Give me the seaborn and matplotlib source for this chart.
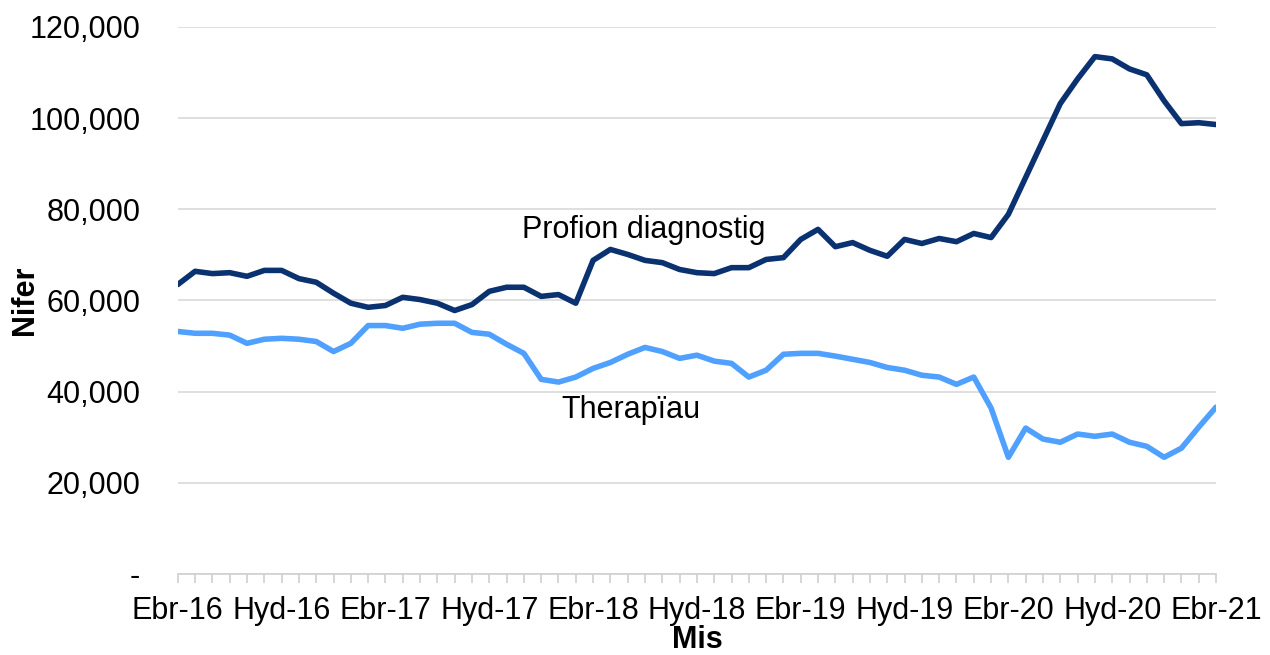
import numpy as np
import pandas as pd
import seaborn as sns
import matplotlib.pyplot as plt

# monthly counts, Ebr-16 .. Ebr-21
profion = [63500, 66400, 65900, 66100, 65300, 66600, 66600, 64800, 64000, 61600,
           59400, 58500, 58900, 60700, 60200, 59400, 57800, 59100, 62000, 62900,
           62900, 60900, 61300, 59400, 68800, 71200, 70100, 68800, 68300, 66800,
           66100, 65900, 67200, 67200, 69000, 69400, 73400, 75600, 71800, 72700,
           71000, 69700, 73400, 72500, 73600, 72900, 74700, 73800, 78900, 87000,
           95100, 103200, 108600, 113500, 113000, 110800, 109500, 103800, 98800, 99000,
           98600]
therapi = [53200, 52800, 52800, 52400, 50600, 51500, 51700, 51500, 51000, 48800,
           50600, 54500, 54500, 53900, 54800, 55000, 55000, 53000, 52600, 50400,
           48400, 42700, 42100, 43200, 45100, 46400, 48200, 49700, 48800, 47300,
           48000, 46700, 46200, 43200, 44700, 48200, 48400, 48400, 47800, 47100,
           46400, 45300, 44700, 43600, 43200, 41600, 43200, 36400, 25600, 32000,
           29600, 28900, 30700, 30200, 30700, 28900, 28000, 25600, 27600, 32200,
           36600]
tick_labels = ['Ebr-16', 'Hyd-16', 'Ebr-17', 'Hyd-17', 'Ebr-18', 'Hyd-18',
               'Ebr-19', 'Hyd-19', 'Ebr-20', 'Hyd-20', 'Ebr-21']
series_names = ['Profion diagnostig', 'Therapïau']

months = np.arange(len(profion))
df = pd.DataFrame({'mis': np.concatenate([months, months]),
                   'nifer': profion + therapi,
                   'cyfres': [series_names[0]] * len(profion) + [series_names[1]] * len(therapi)})

sns.set_style('white')
plt.rcParams['font.family'] = ['Liberation Sans', 'DejaVu Sans']
plt.rcParams['text.color'] = 'black'
plt.rcParams['xtick.color'] = 'black'
plt.rcParams['ytick.color'] = 'black'
plt.rcParams['axes.labelcolor'] = 'black'

fig = plt.figure(figsize=(12.7, 6.55), dpi=100)
ax = fig.add_axes([0.140, 0.1237, 0.8175, 0.8351])

sns.lineplot(data=df, x='mis', y='nifer', hue='cyfres',
             palette={series_names[0]: '#0a3170', series_names[1]: '#4fa0ff'},
             linewidth=4, legend=False, ax=ax)

ax.set_xlim(0, len(profion) - 1)
ax.set_ylim(0, 120000)
ax.set_yticks(np.arange(0, 120001, 20000))
ax.set_yticklabels(['-'] + [f'{v:,}' for v in range(20000, 120001, 20000)], fontsize=22)
ax.yaxis.grid(True, color='#d9d9d9', linewidth=1.2)
ax.set_axisbelow(True)

ax.set_xticks(np.arange(0, len(profion), 6))
ax.set_xticklabels(tick_labels, fontsize=22)
ax.set_xticks(months, minor=True)
ax.tick_params(axis='x', which='both', bottom=True, direction='out', length=6.5,
               color='#d0d0d0', labelcolor='black', width=1.2, pad=9)
ax.tick_params(axis='y', length=0, pad=27)

for s in ['left', 'right', 'top']:
    ax.spines[s].set_visible(False)
ax.spines['bottom'].set_color('#d0d0d0')
ax.spines['bottom'].set_linewidth(1.2)

ax.set_xlabel('Mis', fontsize=22, fontweight='bold')
ax.set_ylabel('Nifer', fontsize=22, fontweight='bold')
ax.xaxis.set_label_coords(0.5, -0.121)
ax.yaxis.set_label_coords(-0.147, 0.5)
ax.xaxis.label.set_va('center')
ax.yaxis.label.set_va('center')

ax.text(26.9, 75400, series_names[0], fontsize=22, ha='center', va='center')
ax.text(26.2, 35900, series_names[1], fontsize=22, ha='center', va='center')

fig.savefig('out.png', dpi=100)
